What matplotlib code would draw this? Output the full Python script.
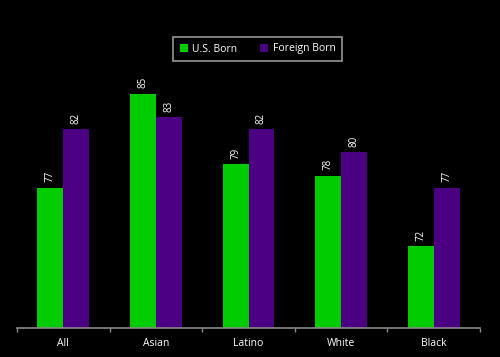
import matplotlib
matplotlib.use("Agg")
import matplotlib.pyplot as plt
import numpy as np

categories = ["All", "Asian", "Latino", "White", "Black"]
us_born = [77, 85, 79, 78, 72]
foreign_born = [82, 83, 82, 80, 77]
series_names = ["U.S. Born", "Foreign Born"]

green = "#00CC00"
purple = "#4B0082"

plt.rcParams['font.family'] = ['Open Sans', 'DejaVu Sans']

fig = plt.figure(figsize=(5, 3.57), dpi=100, facecolor="black")
ax = fig.add_axes([0.034, 1 - 328/357, 0.926, (328 - 35.5)/357])
ax.set_facecolor("black")

x = np.arange(len(categories))
w = 0.28
b1 = ax.bar(x - w/2, us_born, w, color=green, label=series_names[0], zorder=2)
b2 = ax.bar(x + w/2, foreign_born, w, color=purple, label=series_names[1], zorder=2)

for bars in (b1, b2):
    for r in bars:
        ax.annotate(f"{r.get_height():.0f}", (r.get_x() + r.get_width()/2, r.get_height()),
                    xytext=(0, 4), textcoords="offset points", rotation=90,
                    ha="center", va="bottom", color="white", fontsize=7)

ax.set_xlim(-0.5, len(categories) - 0.5)
ax.set_ylim(65, 90)
ax.set_yticks([])
for s in ("top", "right", "left"):
    ax.spines[s].set_visible(False)
ax.spines["bottom"].set_color("#8a8a8a")
ax.spines["bottom"].set_linewidth(1.2)
ax.spines["bottom"].set_zorder(3)

ax.set_xticks(x)
ax.set_xticklabels(categories, color="white", fontsize=7.5)
ax.tick_params(axis="x", which="major", length=0, pad=7)
ax.set_xticks(np.arange(-0.5, len(categories)), minor=True)
ax.tick_params(axis="x", which="minor", length=3, color="#8a8a8a", width=1, direction="out")

leg = ax.legend(loc="center", bbox_to_anchor=(257.5/500, 1 - 49/357), bbox_transform=fig.transFigure,
                ncol=2, frameon=True, fontsize=7.5, handlelength=0.8, handleheight=0.8,
                columnspacing=2.2, handletextpad=0.4, borderpad=0.6, fancybox=False)
leg.get_frame().set_facecolor("black")
leg.get_frame().set_edgecolor("#bbbbbb")
leg.get_frame().set_linewidth(1.2)
for t in leg.get_texts():
    t.set_color("white")

fig.savefig("out.png", dpi=100, facecolor="black")
